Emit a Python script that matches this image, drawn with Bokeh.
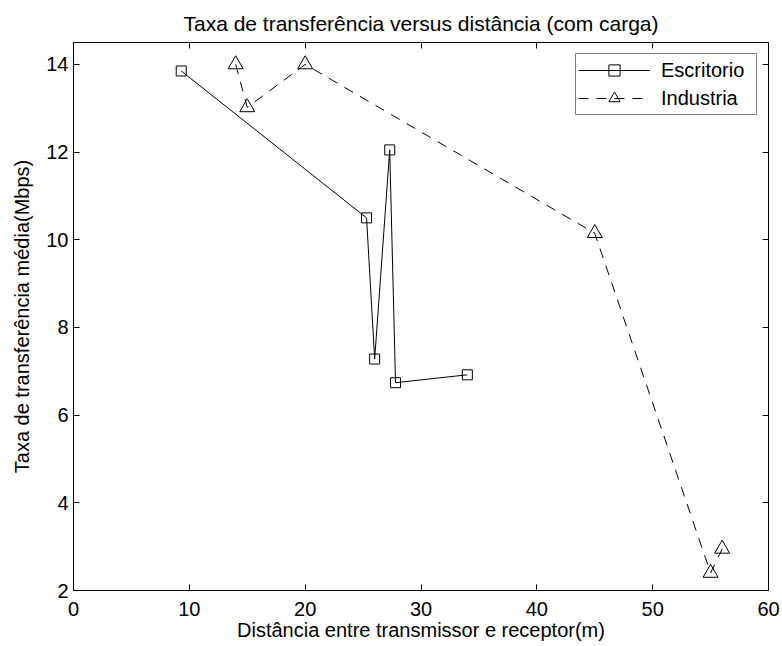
from bokeh.plotting import figure
from bokeh.models import LinearAxis, Range1d, Legend, LegendItem, FixedTicker
from bokeh.embed import file_html
from bokeh.resources import INLINE

# Data
esc_x = [9.3, 25.3, 26.0, 27.3, 27.8, 34.0]
esc_y = [13.85, 10.5, 7.28, 12.05, 6.74, 6.92]
ind_x = [14.0, 15.0, 20.0, 45.0, 55.0, 56.0]
ind_y = [14.0, 13.02, 14.0, 10.15, 2.4, 2.95]
x_ticks = [0, 10, 20, 30, 40, 50, 60]
y_ticks = [2, 4, 6, 8, 10, 12, 14]

FONT = "Liberation Sans"
FS = "20px"

p = figure(width=782, height=646,
           x_range=Range1d(0, 60), y_range=Range1d(2, 14.5),
           output_backend="svg", toolbar_location=None,
           min_border_left=73, min_border_right=14,
           min_border_top=42, min_border_bottom=56)

p.title.text = "Taxa de transferência versus distância (com carga)"
p.title.align = "center"
p.title.text_font = FONT
p.title.text_font_size = "21px"
p.title.text_font_style = "normal"
p.title.text_color = "black"
p.title.standoff = 15

p.xgrid.visible = False
p.ygrid.visible = False
p.outline_line_color = "black"
p.outline_line_alpha = 1.0
p.background_fill_color = "white"
p.border_fill_color = "white"

def style_axis(ax, ticks, show_labels=True):
    ax.ticker = FixedTicker(ticks=ticks)
    ax.major_tick_in = 6
    ax.major_tick_out = 0
    ax.minor_tick_line_color = None
    ax.axis_line_color = "black"
    ax.major_tick_line_color = "black"
    ax.major_label_text_font = FONT
    if show_labels:
        ax.major_label_text_font_size = FS
        ax.major_label_text_color = "black"
    else:
        ax.major_label_text_font_size = "1px"
        ax.major_label_text_color = None
        ax.major_label_standoff = 0

xa = p.xaxis[0]
style_axis(xa, x_ticks)
xa.major_label_standoff = 11
xa.axis_label = "Distância entre transmissor e receptor(m)"
xa.axis_label_text_font = FONT
xa.axis_label_text_font_size = FS
xa.axis_label_text_font_style = "normal"
xa.axis_label_text_color = "black"
xa.axis_label_standoff = 0

ya = p.yaxis[0]
style_axis(ya, y_ticks)
ya.major_label_standoff = 5
ya.axis_label = "Taxa de transferência média(Mbps)"
ya.axis_label_text_font = FONT
ya.axis_label_text_font_size = FS
ya.axis_label_text_font_style = "normal"
ya.axis_label_text_color = "black"
ya.axis_label_standoff = 10

top = LinearAxis()
style_axis(top, x_ticks, show_labels=False)
p.add_layout(top, "above")
right = LinearAxis()
style_axis(right, y_ticks, show_labels=False)
p.add_layout(right, "right")

l1 = p.line(esc_x, esc_y, line_color="black", line_width=1)
s1 = p.scatter(esc_x, esc_y, marker="square", size=10,
               fill_alpha=0, line_color="black", line_width=1)
l2 = p.line(ind_x, ind_y, line_color="black", line_width=1, line_dash="10 8")
s2 = p.scatter(ind_x, ind_y, marker="triangle", size=15,
               fill_alpha=0, line_color="black", line_width=1)

legend = Legend(items=[
    LegendItem(label="Escritorio", renderers=[l1, s1]),
    LegendItem(label="Industria", renderers=[l2, s2]),
], location="top_right")
legend.margin = 11
legend.padding = 2
legend.spacing = 0
legend.glyph_width = 72
legend.glyph_height = 28
legend.label_height = 20
legend.label_width = 93
legend.label_standoff = 11
legend.label_text_font = FONT
legend.label_text_font_size = FS
legend.label_text_color = "black"
legend.border_line_color = "black"
legend.border_line_width = 1
legend.background_fill_color = "white"
legend.background_fill_alpha = 1.0
p.add_layout(legend, "center")

with open("out.html", "w") as f:
    f.write(file_html(p, INLINE))
